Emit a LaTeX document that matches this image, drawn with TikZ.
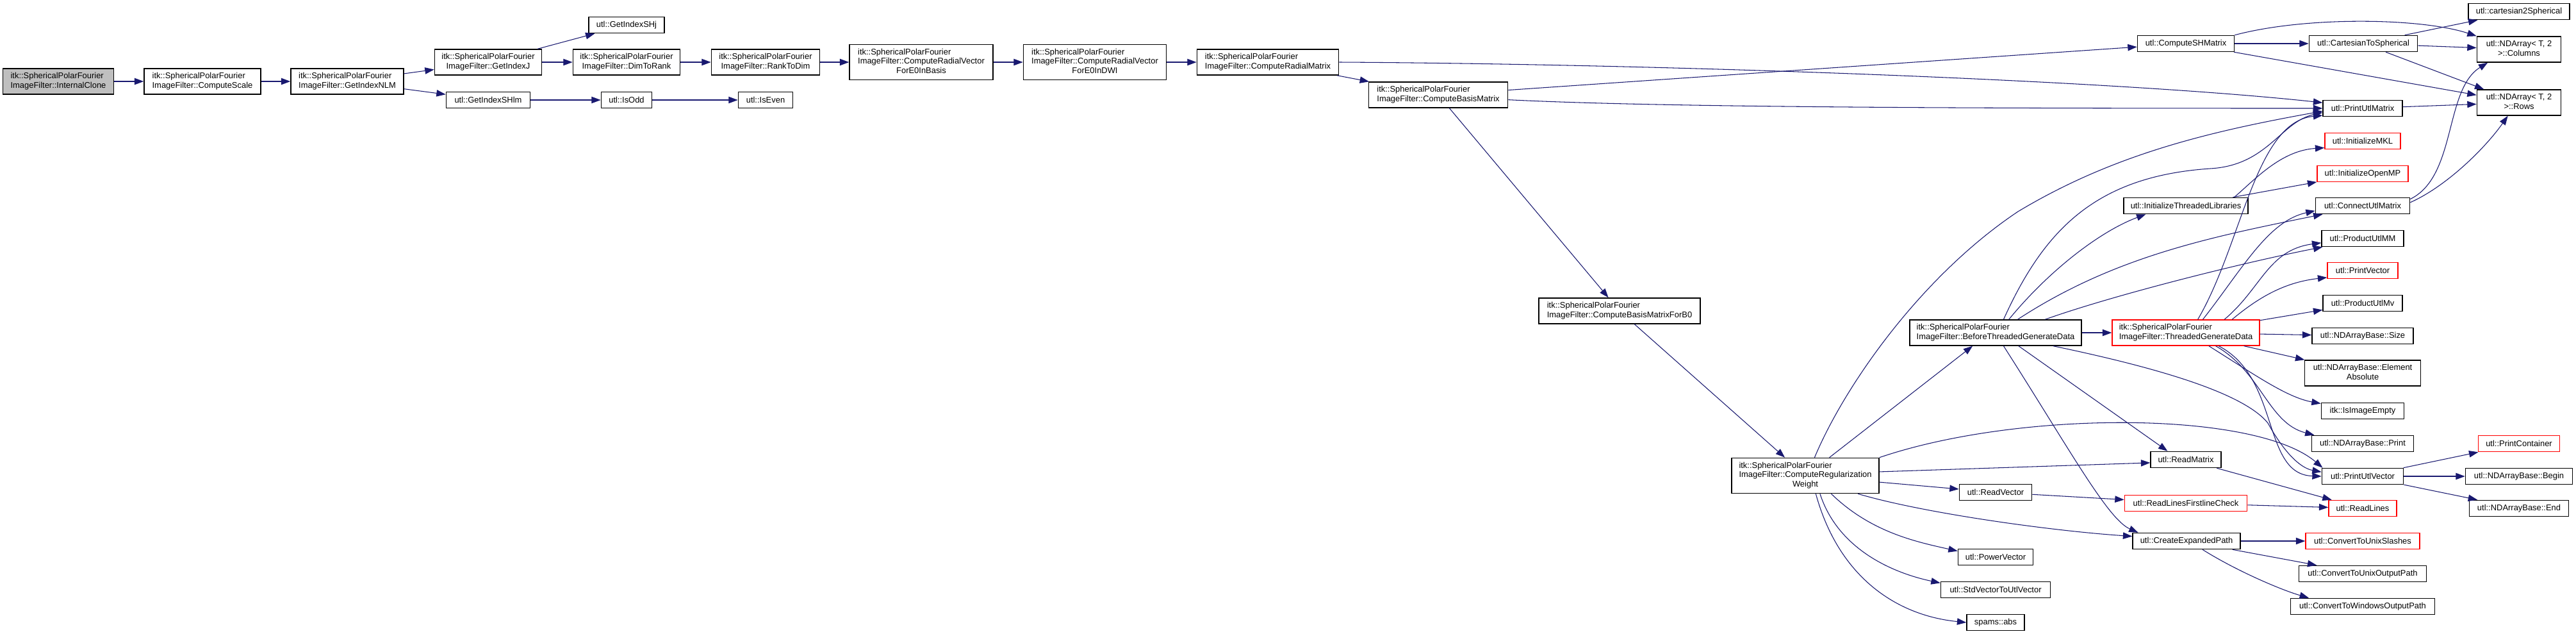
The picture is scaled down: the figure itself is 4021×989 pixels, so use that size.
\documentclass[tikz,border=0pt]{standalone}
\usepackage{fontspec}
\setmainfont{Liberation Sans}
\usetikzlibrary{arrows.meta}
\definecolor{cgink}{HTML}{000000}
\definecolor{cgblue}{HTML}{191970}
\definecolor{cgred}{HTML}{FF0000}
\definecolor{cggray}{HTML}{BFBFBF}
\newcommand\cglines[2]{\begin{tabular}{@{}l@{}}#1\\\multicolumn{1}{@{}c@{}}{#2}\end{tabular}}
\tikzset{
  cg node/.style={draw=cgink, line width=1pt, fill=white, inner sep=0.4mm,
    minimum height=6.3mm, font=\fontsize{9.2}{10.2}\selectfont},
  cg two/.style={cg node, minimum height=10mm},
  cg three/.style={cg node, minimum height=13.8mm},
  cg root/.style={fill=cggray},
  cg red/.style={draw=cgred},
  cg edge/.style={-{Triangle[length=3.6mm,width=2.6mm]}, draw=cgblue, line width=0.75pt}
}

\begin{document}
\begin{tikzpicture}[x=0.25mm, y=-0.25mm]
  \useasboundingbox (0,0) rectangle (4021,989);
  \fill[white] (0,0) rectangle (4021,989);
  % callers, left to right
  \node[cg two, cg root, minimum width=43.3mm] (clone) at (91,127) {\cglines{itk::SphericalPolarFourier}{ImageFilter::InternalClone}};
  \node[cg two, minimum width=45.5mm] (scale) at (316,127) {\cglines{itk::SphericalPolarFourier}{ImageFilter::ComputeScale}};
  \node[cg two, minimum width=44mm] (nlm) at (542,127) {\cglines{itk::SphericalPolarFourier}{ImageFilter::GetIndexNLM}};
  \node[cg two, minimum width=41.8mm] (idxj) at (762,97) {\cglines{itk::SphericalPolarFourier}{ImageFilter::GetIndexJ}};
  \node[cg node, minimum width=29.5mm] (shj) at (978,39) {utl::GetIndexSHj};
  \node[cg two, minimum width=41.8mm] (d2r) at (978,97) {\cglines{itk::SphericalPolarFourier}{ImageFilter::DimToRank}};
  \node[cg two, minimum width=42.3mm] (r2d) at (1195,97) {\cglines{itk::SphericalPolarFourier}{ImageFilter::RankToDim}};
  \node[cg node, minimum width=32.8mm] (shlm) at (762,156) {utl::GetIndexSHlm};
  \node[cg node, minimum width=19.8mm] (isodd) at (978,156) {utl::IsOdd};
  \node[cg node, minimum width=21.3mm] (iseven) at (1195,156) {utl::IsEven};
  \node[cg three, minimum width=56mm] (vbasis) at (1438,97) {\cglines{itk::SphericalPolarFourier\\ImageFilter::ComputeRadialVector}{ForE0InBasis}};
  \node[cg three, minimum width=55.8mm] (vdwi) at (1709,97) {\cglines{itk::SphericalPolarFourier\\ImageFilter::ComputeRadialVector}{ForE0InDWI}};
  \node[cg two, minimum width=55.3mm] (radmat) at (1979,97) {\cglines{itk::SphericalPolarFourier}{ImageFilter::ComputeRadialMatrix}};
  \node[cg two, minimum width=54.3mm] (basis) at (2245,148) {\cglines{itk::SphericalPolarFourier}{ImageFilter::ComputeBasisMatrix}};
  \node[cg two, minimum width=63mm] (basisb0) at (2528,485) {\cglines{itk::SphericalPolarFourier}{ImageFilter::ComputeBasisMatrixForB0}};
  \node[cg three, minimum width=57.5mm] (regw) at (2818,742) {\cglines{itk::SphericalPolarFourier\\ImageFilter::ComputeRegularization}{Weight}};
  \node[cg two, minimum width=67mm] (before) at (3115,519) {\cglines{itk::SphericalPolarFourier}{ImageFilter::BeforeThreadedGenerateData}};
  \node[cg two, cg red, minimum width=57.5mm] (threaded) at (3412,519) {\cglines{itk::SphericalPolarFourier}{ImageFilter::ThreadedGenerateData}};
  % utl column
  \node[cg node, minimum width=37.8mm] (shmat) at (3412,68) {utl::ComputeSHMatrix};
  \node[cg node, minimum width=48.5mm] (initlib) at (3412,321) {utl::InitializeThreadedLibraries};
  \node[cg node, minimum width=27.5mm] (readmat) at (3412,717) {utl::ReadMatrix};
  \node[cg node, cg red, minimum width=47.8mm] (firstline) at (3412,785) {utl::ReadLinesFirstlineCheck};
  \node[cg node, minimum width=42mm] (expand) at (3413,844) {utl::CreateExpandedPath};
  \node[cg node, minimum width=28.3mm] (readvec) at (3115,768) {utl::ReadVector};
  \node[cg node, minimum width=29.3mm] (powvec) at (3115,869) {utl::PowerVector};
  \node[cg node, minimum width=42.8mm] (stdvec) at (3115,920) {utl::StdVectorToUtlVector};
  \node[cg node, minimum width=22.5mm] (abs) at (3115,971) {spams::abs};
  \node[cg node, minimum width=42.3mm] (c2s) at (3689,68) {utl::CartesianToSpherical};
  \node[cg node, minimum width=31mm] (prtmat) at (3688,169) {utl::PrintUtlMatrix};
  \node[cg node, cg red, minimum width=29.5mm] (mkl) at (3688,220) {utl::InitializeMKL};
  \node[cg node, cg red, minimum width=35.5mm] (omp) at (3688,271) {utl::InitializeOpenMP};
  \node[cg node, minimum width=36.8mm] (connect) at (3688,321) {utl::ConnectUtlMatrix};
  \node[cg node, minimum width=32mm] (prodmm) at (3688,372) {utl::ProductUtlMM};
  \node[cg node, cg red, minimum width=27.5mm] (prtvec) at (3688,422) {utl::PrintVector};
  \node[cg node, minimum width=31mm] (prodmv) at (3688,473) {utl::ProductUtlMv};
  \node[cg node, minimum width=39.5mm] (size) at (3688,524) {utl::NDArrayBase::Size};
  \node[cg two, minimum width=45.3mm] (elabs) at (3688,582) {\cglines{utl::NDArrayBase::Element}{Absolute}};
  \node[cg node, minimum width=32.3mm] (empty) at (3688,641) {itk::IsImageEmpty};
  \node[cg node, minimum width=39.8mm] (ndprint) at (3688,692) {utl::NDArrayBase::Print};
  \node[cg node, minimum width=31.8mm] (prtvecu) at (3688,743) {utl::PrintUtlVector};
  \node[cg node, cg red, minimum width=26.5mm] (readlines) at (3688,793) {utl::ReadLines};
  \node[cg node, cg red, minimum width=44.5mm] (unixsl) at (3688,844) {utl::ConvertToUnixSlashes};
  \node[cg node, minimum width=49.8mm] (unixout) at (3688,895) {utl::ConvertToUnixOutputPath};
  \node[cg node, minimum width=56.3mm] (winout) at (3688,946) {utl::ConvertToWindowsOutputPath};
  \node[cg node, minimum width=39.5mm] (cart2sph) at (3932,18) {utl::cartesian2Spherical};
  \node[cg two, minimum width=32.8mm] (cols) at (3932,77) {\cglines{utl::NDArray< T, 2}{>::Columns}};
  \node[cg two, minimum width=32.8mm] (rows) at (3932,160) {\cglines{utl::NDArray< T, 2}{>::Rows}};
  \node[cg node, cg red, minimum width=31.8mm] (container) at (3932,692) {utl::PrintContainer};
  \node[cg node, minimum width=41.8mm] (begin) at (3932,743) {utl::NDArrayBase::Begin};
  \node[cg node, minimum width=38.8mm] (endn) at (3932,793) {utl::NDArrayBase::End};
  % calls
  \draw[cg edge] (clone) -- (scale);
  \draw[cg edge] (scale) -- (nlm);
  \draw[cg edge] (nlm) -- (idxj);
  \draw[cg edge] (nlm) -- (shlm);
  \draw[cg edge] (idxj) -- (shj);
  \draw[cg edge] (idxj) -- (d2r);
  \draw[cg edge] (d2r) -- (r2d);
  \draw[cg edge] (r2d) -- (vbasis);
  \draw[cg edge] (shlm) -- (isodd);
  \draw[cg edge] (isodd) -- (iseven);
  \draw[cg edge] (vbasis) -- (vdwi);
  \draw[cg edge] (vdwi) -- (radmat);
  \draw[cg edge] (radmat) -- (basis);
  \draw[cg edge] (radmat.east) .. controls (2600,100) and (3300,125) .. (prtmat.172);
  \draw[cg edge] (basis) -- (shmat);
  \draw[cg edge] (basis.-4) .. controls (2600,168) and (3100,169) .. (prtmat.west);
  \draw[cg edge] (basis) -- (basisb0);
  \draw[cg edge] (basisb0) -- (regw);
  \draw[cg edge] (shmat) -- (c2s);
  \draw[cg edge] (shmat.north east) .. controls (3600,25) and (3780,28) .. (cols.north west);
  \draw[cg edge] (shmat) -- (rows);
  \draw[cg edge] (c2s) -- (cart2sph);
  \draw[cg edge] (c2s) -- (cols);
  \draw[cg edge] (c2s) -- (rows);
  \draw[cg edge] (prtmat) -- (rows);
  \draw[cg edge] (connect.8) .. controls (3835,275) and (3815,140) .. (cols.-157);
  \draw[cg edge] (connect.4) .. controls (3820,290) and (3880,230) .. (rows.-130);
  \draw[cg edge] (initlib.10) .. controls (3520,280) and (3560,235) .. (mkl.-170);
  \draw[cg edge] (initlib) -- (omp);
  \draw[cg edge] (before) -- (threaded);
  \draw[cg edge] (before.59) .. controls (3190,360) and (3270,275) .. (3450,263)
    .. controls (3540,258) and (3560,190) .. (prtmat.-174);
  \draw[cg edge] (before.45) .. controls (3200,420) and (3280,360) .. (initlib.-168);
  \draw[cg edge] (before.31) .. controls (3300,400) and (3450,370) .. (connect.-168);
  \draw[cg edge] (before.15) .. controls (3300,460) and (3500,410) .. (prodmm.-168);
  \draw[cg edge] (before.-30) -- (readmat.155);
  \draw[cg edge] (before.-59) .. controls (3230,700) and (3290,810) .. (expand.170);
  \draw[cg edge] (before.-13) .. controls (3350,570) and (3500,610) .. (3540,660)
    .. controls (3565,705) and (3590,730) .. (prtvecu.174);
  \draw[cg edge] (threaded.48) .. controls (3500,380) and (3520,190) .. (prtmat.-170);
  \draw[cg edge] (threaded.38) .. controls (3500,420) and (3540,345) .. (connect.-174);
  \draw[cg edge] (threaded.19) .. controls (3530,450) and (3540,390) .. (prodmm.-174);
  \draw[cg edge] (threaded.16) .. controls (3530,460) and (3570,440) .. (prtvec.-169);
  \draw[cg edge] (threaded) -- (prodmv);
  \draw[cg edge] (threaded) -- (size);
  \draw[cg edge] (threaded) -- (elabs);
  \draw[cg edge] (threaded.-30) .. controls (3520,585) and (3570,620) .. (empty.170);
  \draw[cg edge] (threaded.-24) .. controls (3530,580) and (3540,660) .. (ndprint.170);
  \draw[cg edge] (threaded.-22) .. controls (3560,590) and (3530,740) .. (prtvecu.180);
  \draw[cg edge] (regw.37) -- (before.-150);
  \draw[cg edge] (regw.63) .. controls (2880,600) and (3000,430) .. (3150,330)
    .. controls (3300,240) and (3450,205) .. (prtmat.-176);
  \draw[cg edge] (regw.north east) .. controls (3150,640) and (3520,640) .. (prtvecu.168);
  \draw[cg edge] (regw.3) -- (readmat.-175);
  \draw[cg edge] (regw.-5) -- (readvec.175);
  \draw[cg edge] (regw.-19) .. controls (3000,800) and (3200,828) .. (expand.175);
  \draw[cg edge] (regw.-35) .. controls (2920,830) and (2990,845) .. (powvec.171);
  \draw[cg edge] (regw.-51) .. controls (2870,860) and (2960,895) .. (stdvec.173);
  \draw[cg edge] (regw.-60) .. controls (2870,900) and (2960,960) .. (abs.west);
  \draw[cg edge] (readmat) -- (readlines);
  \draw[cg edge] (readvec) -- (firstline);
  \draw[cg edge] (firstline) -- (readlines);
  \draw[cg edge] (expand) -- (unixsl);
  \draw[cg edge] (expand) -- (unixout);
  \draw[cg edge] (expand.-28) .. controls (3490,890) and (3560,920) .. (winout.171);
  \draw[cg edge] (prtvecu) -- (container);
  \draw[cg edge] (prtvecu) -- (begin);
  \draw[cg edge] (prtvecu) -- (endn);
\end{tikzpicture}
\end{document}
